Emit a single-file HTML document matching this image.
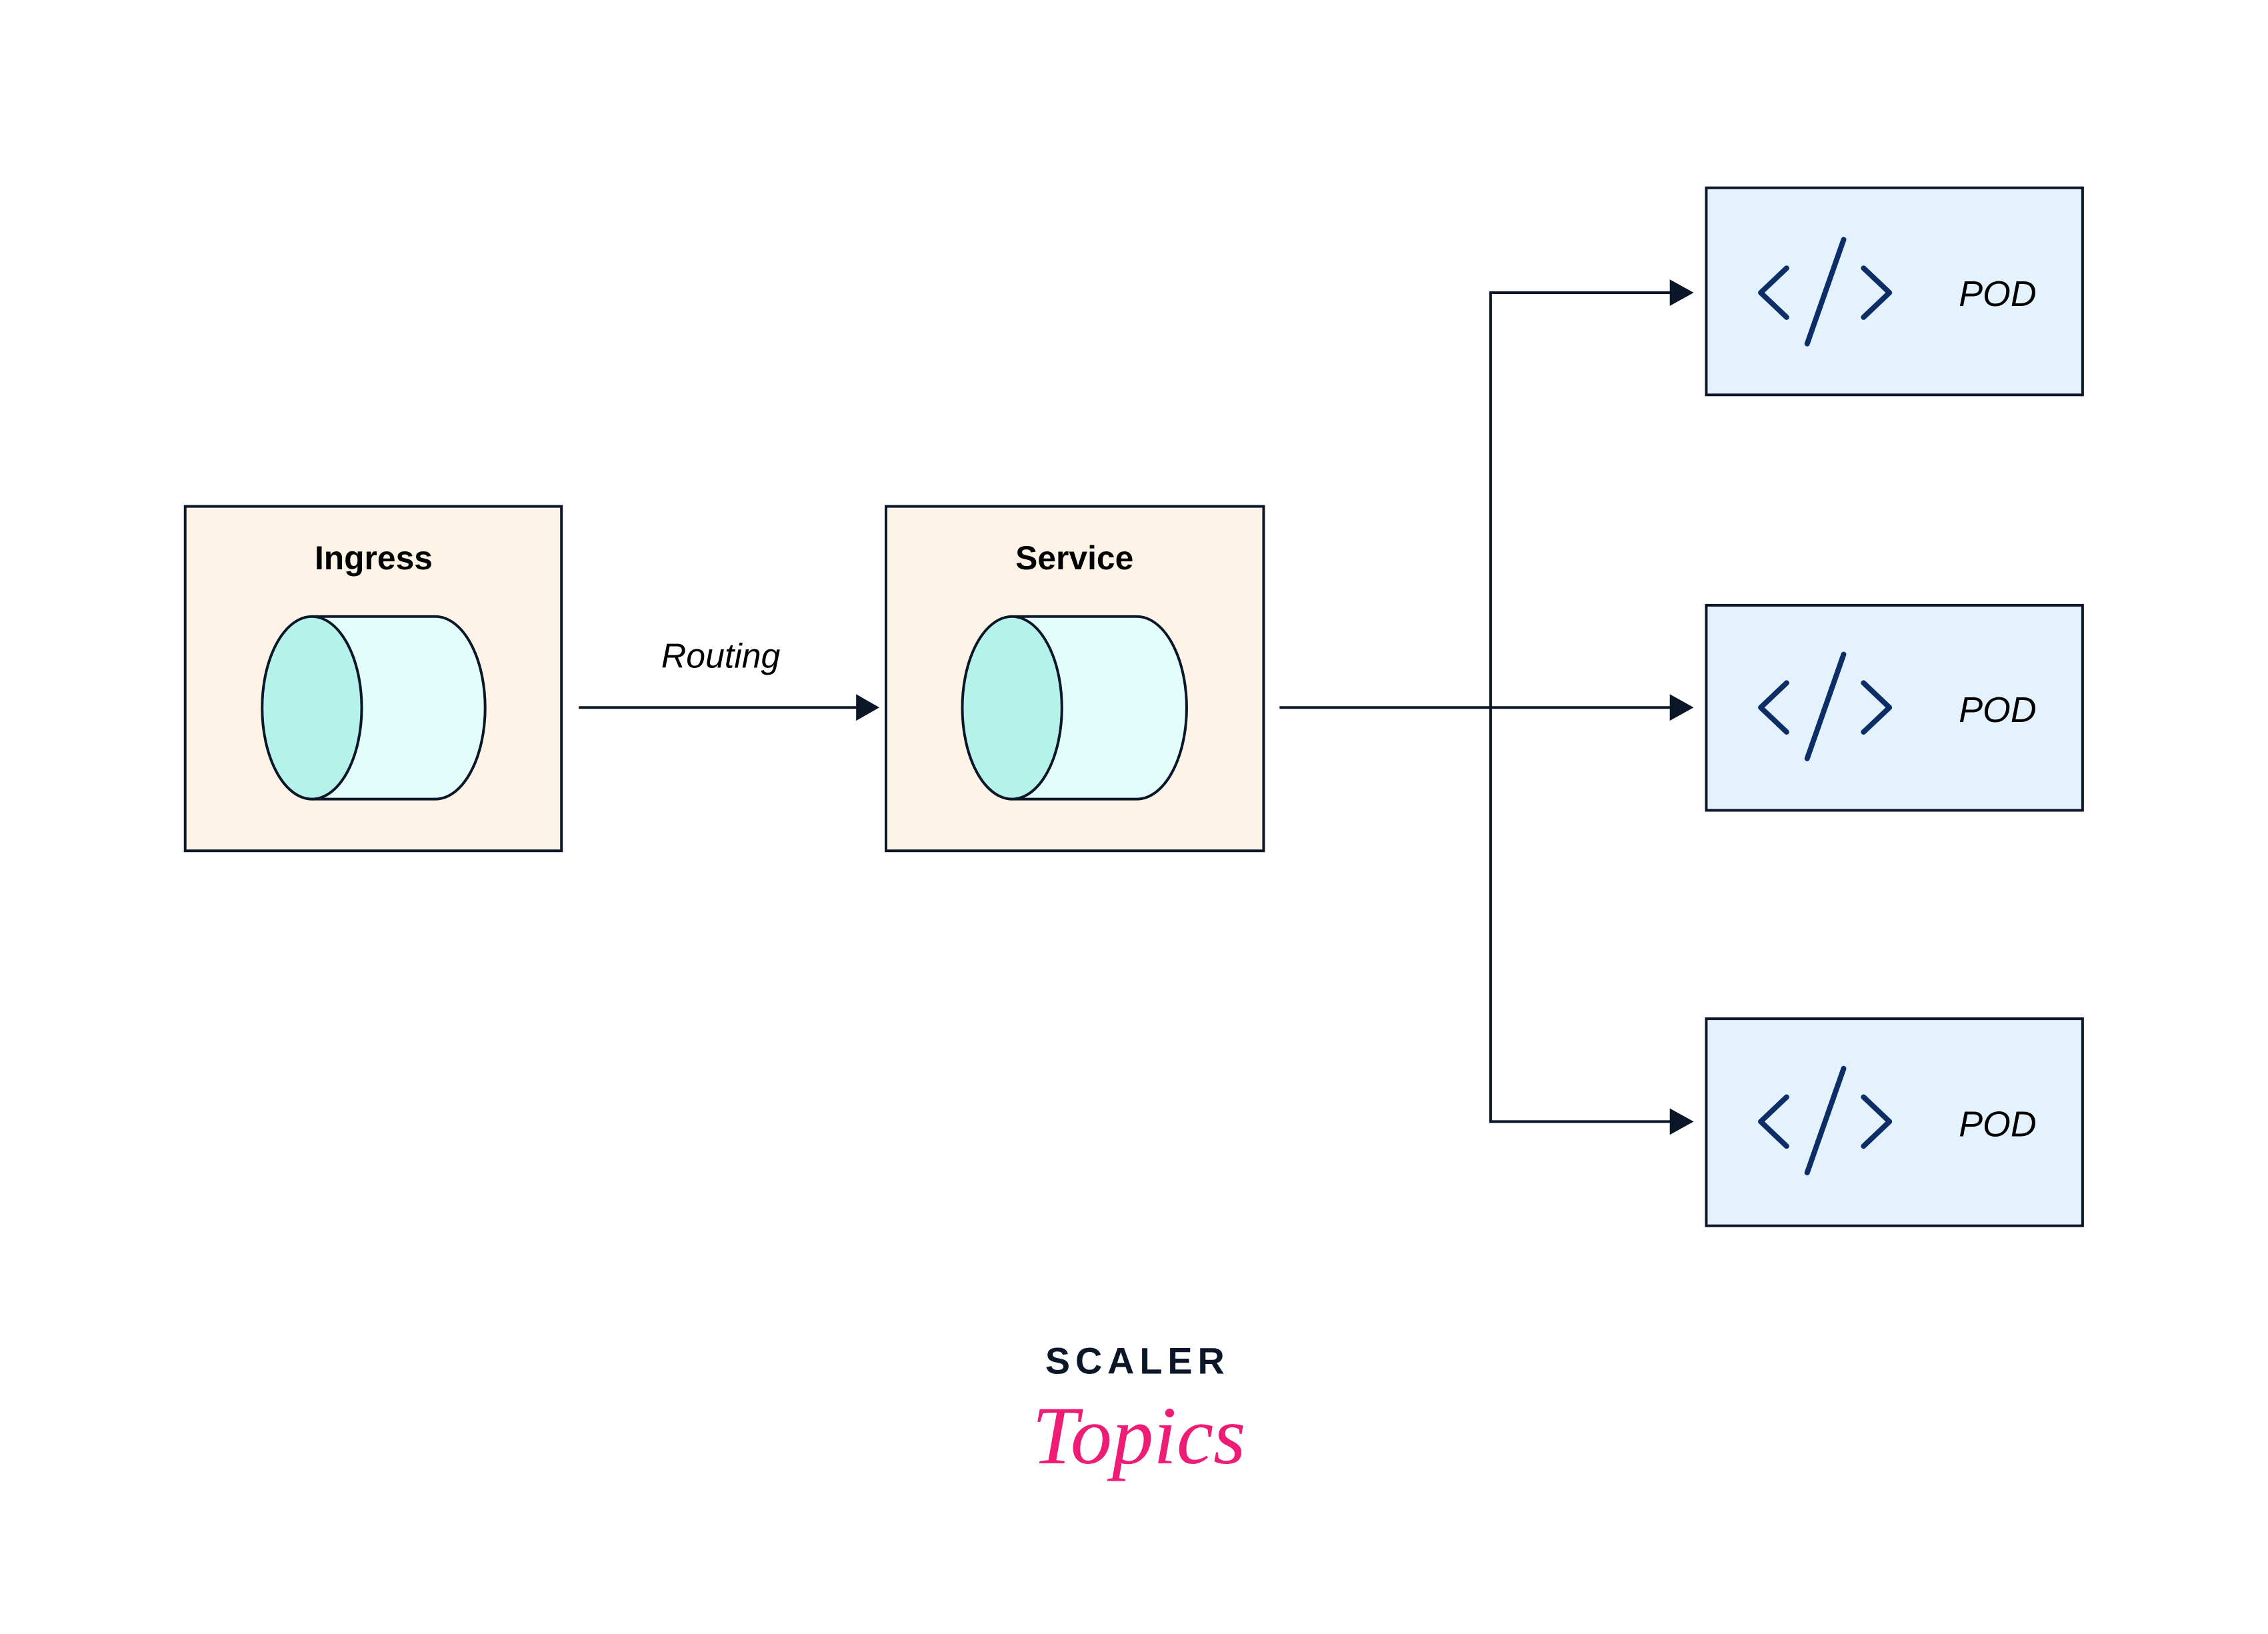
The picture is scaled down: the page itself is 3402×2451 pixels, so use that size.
<!DOCTYPE html>
<html><head><meta charset="utf-8"><style>
html,body{margin:0;padding:0;background:#fff;}
svg{display:block;}
</style></head><body>
<svg width="3402" height="2451" viewBox="0 0 3402 2451" xmlns="http://www.w3.org/2000/svg">
<g transform="scale(0.9955)">
<g stroke="#0b1628" stroke-width="4">
<rect x="279" y="763" width="567" height="519" fill="#fdf4e7"/>
<rect x="1335" y="763" width="569" height="519" fill="#fdf4e7"/>
<rect x="2571" y="283" width="567" height="312" fill="#e4f2fd"/>
<rect x="2571" y="912" width="567" height="309" fill="#e4f2fd"/>
<rect x="2571" y="1535" width="567" height="312" fill="#e4f2fd"/>
</g>
<g stroke="#0b1628" stroke-width="4">
<path d="M470 929 H656 A75 137.5 0 0 1 656 1204 H470 Z" fill="#e3fdfa"/>
<ellipse cx="470" cy="1066.5" rx="75" ry="137.5" fill="#b5f2ea"/>
<path d="M1525 929 H1713 A75 137.5 0 0 1 1713 1204 H1525 Z" fill="#e3fdfa"/>
<ellipse cx="1525" cy="1066.5" rx="75" ry="137.5" fill="#b5f2ea"/>
</g>
<g stroke="#0b1628" stroke-width="4" fill="none">
<line x1="872" y1="1066" x2="1300" y2="1066"/>
<line x1="1928" y1="1066" x2="2530" y2="1066"/>
<polyline points="2530,441 2246,441 2246,1690 2530,1690"/>
</g>
<g fill="#0b1628">
<polygon points="1290,1046 1325,1066 1290,1086"/>
<polygon points="2516,421 2552,441 2516,461"/>
<polygon points="2516,1046 2552,1066 2516,1086"/>
<polygon points="2516,1670 2552,1690 2516,1710"/>
</g>
<g font-family="Liberation Sans, DejaVu Sans, sans-serif">
<text x="563" y="858" font-size="50" font-weight="bold" text-anchor="middle" fill="#000">Ingress</text>
<text x="1619" y="858" font-size="50" font-weight="bold" text-anchor="middle" fill="#000">Service</text>
<text x="1086" y="1006" font-size="52" font-style="italic" text-anchor="middle" fill="#000">Routing</text>
</g>
<g id="code" stroke="#0d2d66" stroke-width="8" stroke-linecap="round" stroke-linejoin="round" fill="none">
<polyline points="2692,404 2653,441 2692,478"/>
<line x1="2778" y1="361" x2="2723" y2="518"/>
<polyline points="2808,404 2847,441 2808,478"/>
</g>
<use href="#code" transform="translate(0,625)"/>
<use href="#code" transform="translate(0,1249)"/>
<g font-family="Liberation Sans, DejaVu Sans, sans-serif" font-size="54" font-style="italic" fill="#000" text-anchor="middle">
<text x="3010" y="461">POD</text>
<text x="3010" y="1088">POD</text>
<text x="3010" y="1712">POD</text>
</g>
<text x="1714" y="2070" font-family="Liberation Sans, DejaVu Sans, sans-serif" font-size="56" font-weight="bold" letter-spacing="8" text-anchor="middle" fill="#0b1628">SCALER</text>
<text x="1716" y="2205" font-family="Liberation Serif, DejaVu Serif, serif" font-size="125" font-style="italic" text-anchor="middle" fill="#ee1c74">Topics</text>
</g>
</svg>
</body></html>
